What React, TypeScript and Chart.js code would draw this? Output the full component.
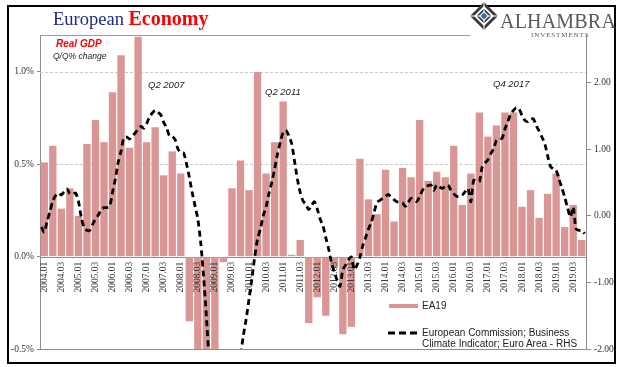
import React, { useEffect, useRef } from "react";
import { Chart, registerables } from "chart.js";

Chart.register(...registerables);

const years = [2004, 2005, 2006, 2007, 2008, 2009, 2010, 2011, 2012, 2013, 2014, 2015, 2016, 2017, 2018, 2019];
const quarterCodes = ["01", "02", "03", "04"];
const monthCodes = ["01", "02", "03", "04", "05", "06", "07", "08", "09", "10", "11", "12"];
const categories = years.flatMap((y) => quarterCodes.map((q) => `${y}.${q}`));
const months = years.flatMap((y) => monthCodes.map((m) => `${y}-${m}`));

// EA19 real GDP, Q/Q % change (left axis)
const gdpQoQ = [
  0.51, 0.60, 0.26, 0.37,
  0.22, 0.61, 0.74, 0.62,
  0.89, 1.09, 0.59, 1.19,
  0.62, 0.70, 0.44, 0.57,
  0.45, -0.35, -0.60, -1.70,
  -3.00, -0.03, 0.37, 0.52,
  0.36, 1.00, 0.45, 0.62,
  0.84, 0.01, 0.09, -0.36,
  -0.22, -0.32, -0.06, -0.42,
  -0.38, 0.53, 0.31, 0.23,
  0.47, 0.19, 0.48, 0.43,
  0.74, 0.41, 0.46, 0.43,
  0.60, 0.28, 0.45, 0.78,
  0.65, 0.71, 0.78, 0.78,
  0.27, 0.36, 0.21, 0.34,
  0.45, 0.16, 0.28, 0.09,
];

// European Commission Business Climate Indicator, monthly (right axis)
const bciMonthly = [
  -0.17, -0.25, -0.08, 0.06, 0.22, 0.30, 0.34, 0.31, 0.36, 0.40, 0.33, 0.32,
  0.34, 0.22, -0.02, -0.18, -0.22, -0.22, -0.13, -0.05, 0.01, 0.09, 0.12, 0.12,
  0.14, 0.35, 0.55, 0.80, 0.97, 1.17, 1.18, 1.15, 1.20, 1.24, 1.30, 1.34,
  1.31, 1.38, 1.48, 1.54, 1.58, 1.55, 1.51, 1.40, 1.32, 1.20, 1.19, 1.14,
  1.00, 0.95, 0.94, 0.78, 0.58, 0.35, 0.15, -0.05, -0.40, -0.90, -1.50, -2.20,
  -2.80, -3.20, -3.50, -3.60, -3.50, -3.30, -3.10, -2.90, -2.60, -2.40, -2.10, -1.80,
  -1.55, -1.25, -0.95, -0.62, -0.35, -0.20, 0.00, 0.13, 0.33, 0.50, 0.70, 0.92,
  1.10, 1.25, 1.28, 1.20, 1.08, 0.82, 0.55, 0.35, 0.22, 0.17, 0.09, 0.15,
  0.21, 0.10, -0.05, -0.15, -0.33, -0.50, -0.70, -0.85, -0.97, -1.06, -0.81, -0.74,
  -0.66, -0.62, -0.81, -0.74, -0.62, -0.45, -0.33, -0.20, -0.10, 0.05, 0.20, 0.23,
  0.26, 0.29, 0.32, 0.28, 0.24, 0.21, 0.20, 0.19, 0.14, 0.20, 0.26, 0.23,
  0.21, 0.29, 0.38, 0.43, 0.45, 0.46, 0.38, 0.46, 0.43, 0.41, 0.44, 0.46,
  0.38, 0.33, 0.29, 0.29, 0.31, 0.36, 0.41, 0.21, 0.53, 0.52, 0.51, 0.73,
  0.79, 0.84, 0.93, 1.00, 1.13, 1.15, 1.16, 1.30, 1.41, 1.52, 1.58, 1.62,
  1.60, 1.50, 1.43, 1.41, 1.45, 1.45, 1.35, 1.27, 1.18, 1.08, 0.90, 0.74,
  0.70, 0.68, 0.55, 0.42, 0.28, 0.12, -0.02, 0.13, -0.20, -0.22, -0.22, -0.27,
];

const leftTicks = [-0.5, 0, 0.5, 1.0];
const rightTicks = [-2, -1, 0, 1, 2];
const dashedGridValues = [0.5, 1.0];
const leftRange = { min: -0.5, max: 1.2 };
const rightRange = { min: -2, max: 2.71 };

const BAR_COLOR = "#D99694";
const AXIS_COLOR = "#8c8c8c";
const TICK_FONT = '"Liberation Serif", "Times New Roman", serif';

const overlayPlugin = {
  id: "overlay",
  beforeDatasetsDraw(chart: any) {
    const { ctx, chartArea: a, scales } = chart;
    const y = scales.y;
    ctx.save();
    ctx.lineWidth = 1;
    ctx.strokeStyle = "#c9c9c9";
    ctx.setLineDash([3, 2]);
    dashedGridValues.forEach((v) => {
      const py = Math.round(y.getPixelForValue(v)) + 0.5;
      ctx.beginPath();
      ctx.moveTo(a.left, py);
      ctx.lineTo(a.right, py);
      ctx.stroke();
    });
    ctx.setLineDash([]);
    ctx.strokeStyle = AXIS_COLOR;
    const zy = Math.round(y.getPixelForValue(0)) + 0.5;
    ctx.beginPath();
    ctx.moveTo(a.left, zy);
    ctx.lineTo(a.right, zy);
    ctx.stroke();
    const by = Math.round(a.bottom) + 0.5;
    ctx.beginPath();
    ctx.moveTo(a.left, by);
    ctx.lineTo(a.right, by);
    ctx.stroke();
    ctx.strokeStyle = "#9a9a9a";
    const ty = Math.round(a.top) + 0.5;
    ctx.beginPath();
    ctx.moveTo(a.left, ty);
    ctx.lineTo(470, ty);
    ctx.stroke();
    ctx.restore();
  },
  beforeDatasetDraw(chart: any, args: any) {
    if (args.meta.type !== "line") return;
    const { ctx, scales } = chart;
    const x = scales.x;
    const zy = scales.y.getPixelForValue(0);
    ctx.save();
    ctx.fillStyle = "#3a3a3a";
    ctx.font = `9.5px ${TICK_FONT}`;
    ctx.textAlign = "right";
    ctx.textBaseline = "middle";
    categories.forEach((label, i) => {
      if (i % 2 !== 0) return;
      const px = x.getPixelForValue(i);
      ctx.save();
      ctx.translate(px, zy + 5);
      ctx.rotate(-Math.PI / 2);
      ctx.fillText(label, 0, 0);
      ctx.restore();
    });
    ctx.restore();
  },
};

function ChartCanvas() {
  const ref = useRef<HTMLCanvasElement | null>(null);
  useEffect(() => {
    if (!ref.current) return;
    const chart = new Chart(ref.current, {
      data: {
        labels: categories,
        datasets: [
          {
            type: "line",
            label: "European Commission; Business Climate Indicator; Euro Area - RHS",
            data: bciMonthly,
            xAxisID: "x2",
            yAxisID: "y1",
            borderColor: "#000",
            borderWidth: 2.8,
            borderDash: [6, 4],
            pointRadius: 0,
            tension: 0.25,
            fill: false,
            clip: 0,
            order: 0,
          } as any,
          {
            type: "bar",
            label: "EA19",
            data: gdpQoQ,
            xAxisID: "x",
            yAxisID: "y",
            backgroundColor: BAR_COLOR,
            barPercentage: 0.86,
            categoryPercentage: 1,
            grouped: false,
            clip: 0,
            order: 1,
          } as any,
        ],
      },
      options: {
        animation: false,
        responsive: false,
        maintainAspectRatio: false,
        layout: { padding: { top: 35, bottom: 18, left: 0, right: 0 } },
        plugins: { legend: { display: false }, tooltip: { enabled: false } },
        scales: {
          x: { type: "category", labels: categories, display: false, offset: true },
          x2: { type: "category", labels: months, display: false, offset: true },
          y: {
            position: "left",
            min: leftRange.min,
            max: leftRange.max,
            afterBuildTicks: (s: any) => {
              s.ticks = leftTicks.map((v) => ({ value: v }));
            },
            afterFit: (s: any) => {
              s.width = 40;
            },
            grid: { drawOnChartArea: false, drawTicks: true, tickLength: 3, color: AXIS_COLOR },
            border: { display: true, color: AXIS_COLOR },
            ticks: {
              padding: 3,
              color: "#333",
              font: { family: TICK_FONT, size: 9.5 },
              callback: (v: any) => Number(v).toFixed(1) + "%",
            },
          },
          y1: {
            position: "right",
            min: rightRange.min,
            max: rightRange.max,
            afterBuildTicks: (s: any) => {
              s.ticks = rightTicks.map((v) => ({ value: v }));
            },
            afterFit: (s: any) => {
              s.width = 35;
            },
            grid: { drawOnChartArea: false, drawTicks: true, tickLength: 5, color: AXIS_COLOR },
            border: { display: true, color: AXIS_COLOR },
            ticks: {
              padding: 3,
              color: "#333",
              font: { family: TICK_FONT, size: 9.5 },
              callback: (v: any) => Number(v).toFixed(2),
            },
          },
        },
      } as any,
      plugins: [overlayPlugin],
    });
    return () => chart.destroy();
  }, []);
  return <canvas ref={ref} width={621} height={367} style={{ position: "absolute", left: 0, top: 0, width: 621, height: 367 }} />;
}

const sans = '"Liberation Sans", Arial, sans-serif';
const serif = '"Liberation Serif", "Times New Roman", serif';

function Logo() {
  return (
    <div style={{ position: "absolute", left: 0, top: 0 }}>
      <svg width={30} height={30} style={{ position: "absolute", left: 469, top: 1 }} viewBox="0 0 30 30">
        <polygon points="15,1 29,15 15,29 1,15" fill="#3b3b3b" />
        <polygon points="15,5 25,15 15,25 5,15" fill="#fff" />
        <polygon points="15,7.5 22.5,15 15,22.5 7.5,15" fill="#3b3b3b" />
        <polygon points="15,10 20,15 15,20 10,15" fill="#fff" />
        <line x1="15" y1="1" x2="15" y2="29" stroke="#fff" strokeWidth="1" />
        <line x1="1" y1="15" x2="29" y2="15" stroke="#fff" strokeWidth="1" />
        <polygon points="15,11.5 18.5,15 15,18.5 11.5,15" fill="#2f6db5" />
      </svg>
      <div style={{ position: "absolute", left: 500, top: 11, fontFamily: serif, fontSize: 20, lineHeight: "20px", color: "#5a5a5a", whiteSpace: "nowrap", letterSpacing: 0.2 }}>
        ALHAMBRA
      </div>
      <div style={{ position: "absolute", left: 531, top: 32, fontFamily: serif, fontSize: 7, lineHeight: "7px", color: "#5a5a5a", whiteSpace: "nowrap", letterSpacing: 0.9 }}>
        INVESTMENTS
      </div>
    </div>
  );
}

export default function App() {
  return (
    <div style={{ position: "fixed", left: 0, top: 0, width: 621, height: 367, overflow: "hidden", background: "#fff" }}>
      <ChartCanvas />
      <div style={{ position: "absolute", left: 7, top: 5, width: 605, height: 355, border: "2px solid #000" }} />
      <div style={{ position: "absolute", left: 53, top: 9, fontFamily: serif, fontSize: 18.5, lineHeight: "18px", whiteSpace: "nowrap" }}>
        <span style={{ color: "#1f2a80" }}>European </span>
        <span style={{ color: "#ff0000", fontWeight: "bold", fontSize: 20 }}>Economy</span>
      </div>
      <Logo />
      <div style={{ position: "absolute", left: 56, top: 39, fontFamily: sans, fontSize: 10, lineHeight: "10px", fontWeight: "bold", fontStyle: "italic", color: "#ff0000", whiteSpace: "nowrap" }}>
        Real GDP
      </div>
      <div style={{ position: "absolute", left: 53, top: 52, fontFamily: sans, fontSize: 8.5, lineHeight: "8.5px", fontStyle: "italic", color: "#222", whiteSpace: "nowrap" }}>
        Q/Q% change
      </div>
      <div style={{ position: "absolute", left: 148, top: 80, fontFamily: sans, fontSize: 9.5, lineHeight: "9.5px", fontStyle: "italic", color: "#222", whiteSpace: "nowrap" }}>
        Q2 2007
      </div>
      <div style={{ position: "absolute", left: 265, top: 87, fontFamily: sans, fontSize: 9.5, lineHeight: "9.5px", fontStyle: "italic", color: "#222", whiteSpace: "nowrap" }}>
        Q2 2011
      </div>
      <div style={{ position: "absolute", left: 493, top: 79, fontFamily: sans, fontSize: 9.5, lineHeight: "9.5px", fontStyle: "italic", color: "#222", whiteSpace: "nowrap" }}>
        Q4 2017
      </div>
      <div style={{ position: "absolute", left: 389, top: 304, width: 29, height: 4, background: BAR_COLOR }} />
      <div style={{ position: "absolute", left: 422, top: 300, fontFamily: sans, fontSize: 10, lineHeight: "11px", color: "#222", whiteSpace: "nowrap" }}>
        EA19
      </div>
      <svg width={32} height={6} style={{ position: "absolute", left: 387, top: 330 }}>
        <line x1="1" y1="3" x2="31" y2="3" stroke="#000" strokeWidth="3" strokeDasharray="7 4" />
      </svg>
      <div style={{ position: "absolute", left: 422, top: 327, fontFamily: sans, fontSize: 10, lineHeight: "11px", color: "#222", whiteSpace: "nowrap" }}>
        European Commission; Business
        <br />
        Climate Indicator; Euro Area - RHS
      </div>
    </div>
  );
}
